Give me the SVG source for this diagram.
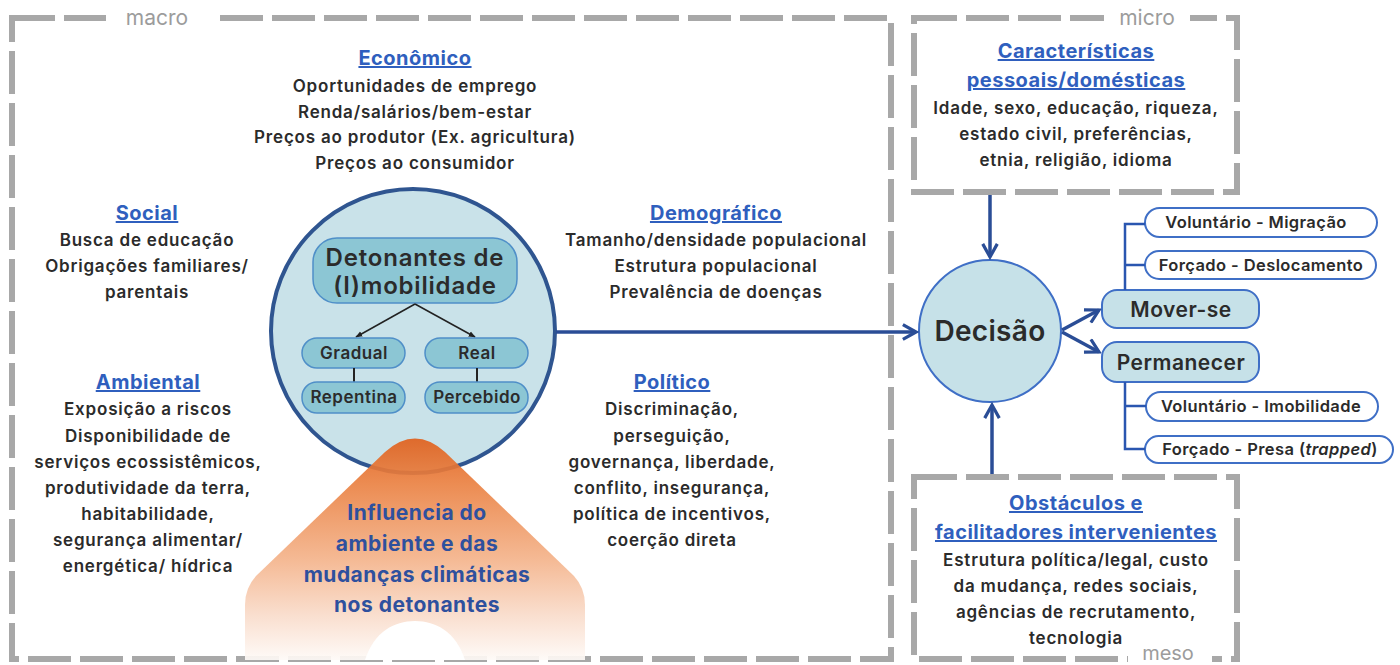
<svg xmlns="http://www.w3.org/2000/svg" width="1400" height="665" viewBox="0 0 1400 665">
<defs>
<linearGradient id="og" x1="0" y1="0" x2="0" y2="1">
<stop offset="0" stop-color="#e0601c"/>
<stop offset="0.2" stop-color="#ea8142"/>
<stop offset="0.55" stop-color="#f4b48c"/>
<stop offset="0.8" stop-color="#f9dccb"/>
<stop offset="1" stop-color="#fefaf7"/>
</linearGradient>
<marker id="chev" viewBox="0 0 12 12" refX="10" refY="6" markerWidth="5" markerHeight="5" orient="auto" markerUnits="strokeWidth">
<path d="M1,1 L10,6 L1,11" fill="none" stroke="#2a4d96" stroke-width="2.2" stroke-linejoin="miter"/>
</marker>
<marker id="blk" viewBox="0 0 10 10" refX="9" refY="5" markerWidth="7" markerHeight="7" orient="auto" markerUnits="userSpaceOnUse">
<path d="M0,1 L10,5 L0,9 z" fill="#222"/>
</marker>
<style>
.box{fill:none;stroke:#a8a8a8;stroke-width:6;stroke-dasharray:43 9}
.lbl{font-family:Inter,"Liberation Sans",sans-serif;font-size:21px;fill:#9c9c9c;text-anchor:middle}
.h{font-family:Inter,"Liberation Sans",sans-serif;font-size:20px;font-weight:700;fill:#2f5fbe;text-anchor:middle;text-decoration:underline;letter-spacing:0.5px}
.t{font-family:Inter,"Liberation Sans",sans-serif;font-size:17px;font-weight:600;fill:#2b2b2b;text-anchor:middle;letter-spacing:0.8px}
.pill{fill:#8cc6d4;stroke:#4f8fc8;stroke-width:1.5}
.pt{font-family:Inter,"Liberation Sans",sans-serif;font-size:17px;font-weight:600;fill:#2b2b2b;text-anchor:middle;letter-spacing:0.5px}
.opt{fill:#fff;stroke:#3f6fc6;stroke-width:2}
.ot{font-family:Inter,"Liberation Sans",sans-serif;font-size:16.5px;font-weight:600;fill:#2b2b2b;text-anchor:middle;letter-spacing:0.4px}
.dc{fill:#c6e1e8;stroke:#3f6fc6;stroke-width:2}
.conn{stroke:#2a4d96;stroke-width:3.5;fill:none}
.tree{stroke:#2a56b0;stroke-width:2.5;fill:none}
.orange{font-family:Inter,"Liberation Sans",sans-serif;font-size:21px;font-weight:700;fill:#2e509e;text-anchor:middle;letter-spacing:0.5px}
</style>
</defs>
<rect width="1400" height="665" fill="#fff"/>

<g id="macro">
<rect class="box" x="12" y="18" width="879" height="641"/>
<rect x="106" y="8" width="108" height="20" fill="#fff"/>
<text class="lbl" x="157" y="25">macro</text>
</g>

<g id="micro">
<rect class="box" x="914" y="18" width="323" height="174"/>
<rect x="1104" y="8" width="86" height="20" fill="#fff"/>
<text class="lbl" x="1147" y="25">micro</text>
<text class="h" x="1076" y="58">Características</text>
<text class="h" x="1076" y="87">pessoais/domésticas</text>
<text class="t" x="1076" y="114">Idade, sexo, educação, riqueza,</text>
<text class="t" x="1076" y="140">estado civil, preferências,</text>
<text class="t" x="1076" y="166">etnia, religião, idioma</text>
</g>

<g id="meso">
<rect class="box" x="914" y="477" width="323" height="182"/>
<rect x="1128" y="648" width="84" height="17" fill="#fff"/>
<text class="lbl" x="1168" y="660" style="font-size:20px">meso</text>
<text class="h" x="1076" y="510">Obstáculos e</text>
<text class="h" x="1076" y="539">facilitadores intervenientes</text>
<text class="t" x="1076" y="566">Estrutura política/legal, custo</text>
<text class="t" x="1076" y="592">da mudança, redes sociais,</text>
<text class="t" x="1076" y="618">agências de recrutamento,</text>
<text class="t" x="1076" y="644">tecnologia</text>
</g>

<g id="economico">
<text class="h" x="415" y="65">Econômico</text>
<text class="t" x="415" y="92">Oportunidades de emprego</text>
<text class="t" x="415" y="118">Renda/salários/bem-estar</text>
<text class="t" x="415" y="143">Preços ao produtor (Ex. agricultura)</text>
<text class="t" x="415" y="169">Preços ao consumidor</text>
</g>

<g id="social">
<text class="h" x="147" y="220">Social</text>
<text class="t" x="147" y="246">Busca de educação</text>
<text class="t" x="147" y="272">Obrigações familiares/</text>
<text class="t" x="147" y="298">parentais</text>
</g>

<g id="ambiental">
<text class="h" x="148" y="389">Ambiental</text>
<text class="t" x="148" y="415">Exposição a riscos</text>
<text class="t" x="148" y="442">Disponibilidade de</text>
<text class="t" x="148" y="468">serviços ecossistêmicos,</text>
<text class="t" x="148" y="494">produtividade da terra,</text>
<text class="t" x="148" y="520">habitabilidade,</text>
<text class="t" x="148" y="546">segurança alimentar/</text>
<text class="t" x="148" y="572">energética/ hídrica</text>
</g>

<g id="demografico">
<text class="h" x="716" y="220">Demográfico</text>
<text class="t" x="716" y="246">Tamanho/densidade populacional</text>
<text class="t" x="716" y="272">Estrutura populacional</text>
<text class="t" x="716" y="298">Prevalência de doenças</text>
</g>

<g id="politico">
<text class="h" x="672" y="389">Político</text>
<text class="t" x="672" y="415">Discriminação,</text>
<text class="t" x="672" y="442">perseguição,</text>
<text class="t" x="672" y="468">governança, liberdade,</text>
<text class="t" x="672" y="494">conflito, insegurança,</text>
<text class="t" x="672" y="520">política de incentivos,</text>
<text class="t" x="672" y="546">coerção direta</text>
</g>

<g id="detonantes">
<circle cx="413" cy="331" r="142" fill="#c9e2e9" stroke="#2f5590" stroke-width="4"/>
<rect class="pill" x="313" y="238" width="204" height="65" rx="24"/>
<text class="pt" x="415" y="266" style="font-size:24px;letter-spacing:0.8px">Detonantes de</text>
<text class="pt" x="415" y="294" style="font-size:24px;letter-spacing:0.8px">(I)mobilidade</text>
<line x1="415" y1="304" x2="356" y2="337" stroke="#222" stroke-width="1.5" marker-end="url(#blk)"/>
<line x1="415" y1="304" x2="475" y2="337" stroke="#222" stroke-width="1.5" marker-end="url(#blk)"/>
<rect class="pill" x="302" y="338" width="103" height="30" rx="15"/>
<text class="pt" x="354" y="359">Gradual</text>
<rect class="pill" x="425" y="338" width="103" height="30" rx="15"/>
<text class="pt" x="477" y="359">Real</text>
<line x1="354" y1="368" x2="354" y2="382" stroke="#222" stroke-width="2"/>
<line x1="477" y1="368" x2="477" y2="382" stroke="#222" stroke-width="2"/>
<rect class="pill" x="302" y="382" width="103" height="31" rx="15"/>
<text class="pt" x="354" y="403">Repentina</text>
<rect class="pill" x="425" y="382" width="103" height="31" rx="15"/>
<text class="pt" x="477" y="403">Percebido</text>
</g>

<g id="influencia">
<path d="M245,660 L245,605 Q245,588 256,576 L385,452 Q415,425 445,452 L574,576 Q585,588 585,605 L585,660 Z" fill="url(#og)" opacity="0.92"/>
<path d="M365,660 C374,632 394,621 415,621 C436,621 456,632 465,660 Z" fill="#fff"/>
<text class="orange" x="417" y="520">Influencia do</text>
<text class="orange" x="417" y="551">ambiente e das</text>
<text class="orange" x="417" y="582">mudanças climáticas</text>
<text class="orange" x="417" y="612">nos detonantes</text>
</g>

<g id="decisao">
<circle class="dc" cx="990" cy="331" r="71" stroke="#2f5590" stroke-width="3.5"/>
<text class="pt" x="990" y="341" style="font-size:28px;letter-spacing:0.3px">Decisão</text>
</g>

<g id="mover">
<rect class="dc" x="1102" y="290" width="157" height="38" rx="15"/>
<text class="pt" x="1181" y="317" style="font-size:21px">Mover-se</text>
</g>
<g id="permanecer">
<rect class="dc" x="1102" y="342" width="157" height="40" rx="15"/>
<text class="pt" x="1181" y="370" style="font-size:21px">Permanecer</text>
</g>
<g id="vol-mig">
<rect class="opt" x="1145" y="208" width="232" height="29" rx="14.5"/>
<text class="ot" x="1256" y="228">Voluntário - Migração</text>
</g>
<g id="forc-desl">
<rect class="opt" x="1145" y="251" width="231" height="28" rx="14"/>
<text class="ot" x="1261" y="271">Forçado - Deslocamento</text>
</g>
<g id="vol-imob">
<rect class="opt" x="1146" y="392" width="232" height="29" rx="14.5"/>
<text class="ot" x="1261" y="412">Voluntário - Imobilidade</text>
</g>
<g id="forc-presa">
<rect class="opt" x="1145" y="436" width="248" height="27" rx="13.5"/>
<text class="ot" x="1270" y="455">Forçado - Presa (<tspan font-style="italic">trapped</tspan>)</text>
</g>

<g id="connectors">
<line class="conn" x1="556" y1="332" x2="916" y2="332" marker-end="url(#chev)"/>
<line class="conn" x1="990" y1="195" x2="990" y2="257" marker-end="url(#chev)"/>
<line class="conn" x1="992" y1="474" x2="992" y2="405" marker-end="url(#chev)"/>
<line class="conn" x1="1062" y1="330" x2="1099" y2="310" marker-end="url(#chev)"/>
<line class="conn" x1="1062" y1="332" x2="1099" y2="352" marker-end="url(#chev)"/>
<path class="tree" d="M1125,290 L1125,224 L1145,224 M1125,265 L1145,265"/>
<path class="tree" d="M1125,382 L1125,449 L1145,449 M1125,406 L1146,406"/>
</g>
</svg>
